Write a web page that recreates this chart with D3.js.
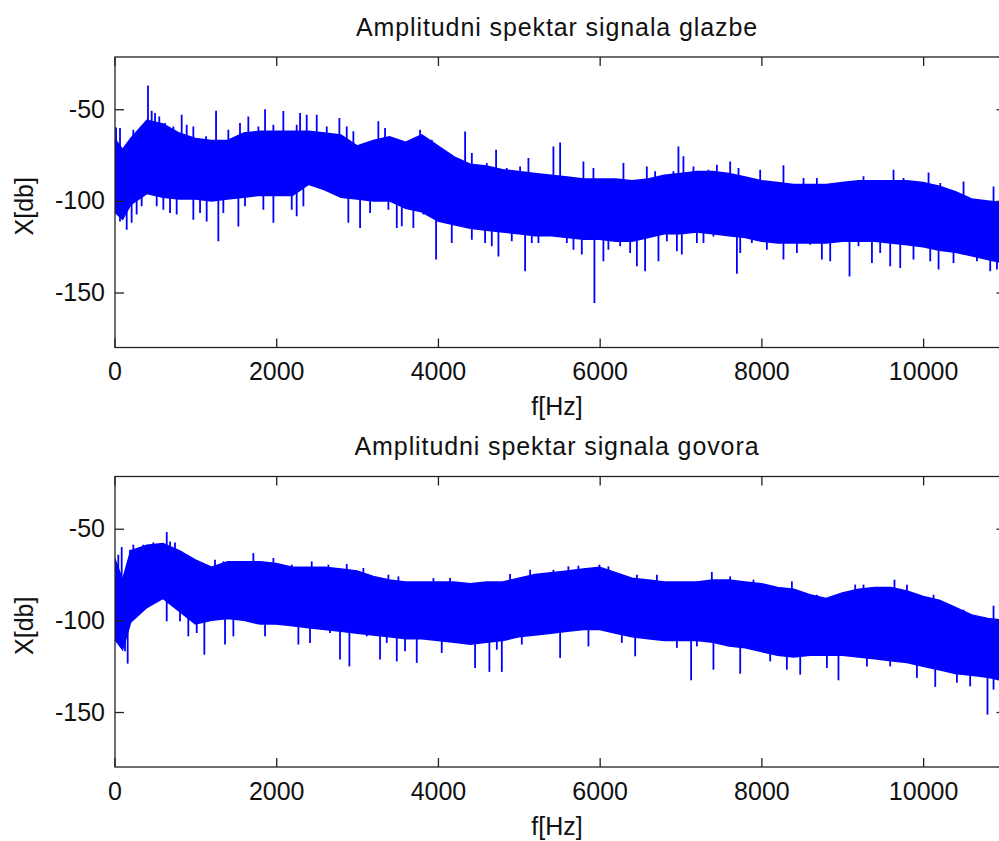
<!DOCTYPE html>
<html>
<head>
<meta charset="utf-8">
<script src="https://cdn.jsdelivr.net/npm/d3@7"></script>
<style>
  body { margin: 0; background: #fff; }
  text { font-family: "Liberation Sans", Arial, sans-serif; fill: #111; }
</style>
</head>
<body>
<div id="chart"></div>
<script>
// frequency grid (Hz) for the envelopes
const freqs = [0, 100, 200, 400, 600, 800, 1000, 1200, 1400, 1600, 1800, 2000, 2200, 2400, 2600, 2800, 3000,
  3200, 3400, 3600, 3800, 4000, 4200, 4400, 4600, 4800, 5000, 5200, 5400, 5600, 5800, 6000,
  6200, 6400, 6600, 6800, 7000, 7200, 7400, 7600, 7800, 8000, 8200, 8400, 8600, 8800, 9000,
  9200, 9400, 9600, 9800, 10000, 10200, 10400, 10600, 10800, 11000];

// music spectrum: upper / lower edge of the dense band (dB)
const glazbeTop = [-66, -72, -66, -56, -58, -63, -66, -67, -67, -63, -62, -62, -62, -62, -63, -64, -70,
  -67, -65, -68, -64, -70, -76, -80, -81, -83, -84, -85, -86, -87, -88, -88,
  -88, -89, -88, -86, -85, -84, -84, -85, -87, -89, -90, -91, -91, -91, -90,
  -89, -89, -89, -89, -90, -92, -95, -99, -100, -101];
const glazbeBottom = [-106, -110, -102, -96, -98, -99, -99, -100, -99, -98, -97, -97, -97, -91, -94, -98, -99,
  -100, -100, -104, -106, -111, -113, -115, -116, -117, -118, -119, -119, -120, -121, -121,
  -122, -122, -120, -118, -118, -117, -118, -119, -120, -122, -123, -123, -123, -123, -122,
  -122, -122, -123, -124, -125, -127, -128, -130, -132, -134];
// single spikes sticking out of the band [Hz, dB]
const glazbeSpikesUp = [[20, -60], [68, -60.3], [233, -61.2], [336, -59.4], [414, -37], [460, -50.8], [501, -52],
  [554, -54], [625, -57.5], [728, -59.4], [831, -53], [893, -58.5], [975, -59.4], [1132, -64.8],
  [1256, -50.8], [1408, -61.2], [1552, -57.5], [1655, -54], [1779, -59.4], [1862, -50], [1965, -58.5],
  [2088, -51], [2253, -58.5], [2295, -52], [2377, -53], [2501, -53], [2625, -59.4], [2781, -54.8],
  [2872, -59.4], [2954, -62], [3263, -56.6], [3346, -60.3], [3572, -70.3], [3696, -65.7], [3779, -61.2],
  [3841, -65.7], [3924, -66.6], [4129, -73.9], [4336, -62.1], [4419, -73.9], [4604, -79.3], [4719, -72.1],
  [4851, -82], [5016, -81.2], [5119, -76.6], [5428, -70.3], [5511, -68.1], [5799, -78.5], [5923, -82],
  [6294, -79.3], [6583, -81.2], [6686, -83.9], [6912, -83.9], [6974, -70.3], [7036, -75.7], [7160, -81.2],
  [7345, -83], [7449, -80.3], [7614, -78.5], [7717, -82], [7985, -83], [8273, -80.6], [8521, -87.5],
  [8686, -87.5], [8974, -91.2], [9263, -86.6], [9429, -89.4], [9634, -83], [9758, -87.5], [10067, -84.5],
  [10212, -90.2], [10500, -89.4], [10871, -92.1]];
const glazbeSpikesDown = [[68, -111.2], [151, -115.7], [212, -112], [274, -107.5], [336, -103], [522, -103],
  [604, -104.8], [687, -106.6], [769, -107.5], [975, -110.3], [1058, -106.6], [1140, -111.2], [1284, -122],
  [1346, -106.6], [1532, -114], [1614, -103], [1841, -104.8], [1965, -112], [2192, -104.8], [2253, -108.4],
  [2336, -103], [2892, -112], [3037, -114.8], [3161, -106.6], [3387, -104.8], [3491, -114.8], [3553, -113.9],
  [3696, -114.8], [3820, -107.5], [3977, -132], [4171, -123], [4295, -113.9], [4419, -121.2], [4583, -123],
  [4666, -124.8], [4748, -130.3], [4913, -122], [5078, -138.4], [5161, -123], [5243, -123], [5470, -119.4],
  [5594, -123], [5676, -126.6], [5779, -129.3], [5935, -155.7], [6046, -133], [6108, -126.6], [6253, -124.8],
  [6377, -128.4], [6460, -135.7], [6562, -138.4], [6727, -133], [6831, -122], [6955, -127.5], [7016, -129.3],
  [7202, -123], [7284, -123], [7407, -119.4], [7697, -139.7], [7738, -128.4], [7882, -123], [8068, -126.6],
  [8273, -132], [8439, -128.4], [8603, -123.9], [8748, -132], [8851, -133], [9090, -141.2], [9201, -124.8],
  [9367, -133.9], [9469, -128.4], [9593, -135.7], [9717, -136.6], [9881, -132], [10088, -133], [10191, -137.5],
  [10376, -133.9], [10500, -128.4], [10665, -133], [10830, -138.4], [10913, -137.5]];

// speech spectrum
const govoraTop = [-66, -78, -62, -59, -58, -62, -67, -71, -68, -68, -68, -69, -71, -71, -71, -72, -73,
  -76, -78, -79, -79, -79, -79, -80, -79, -79, -77, -75, -74, -73, -72, -71,
  -74, -77, -78, -79, -79, -79, -78, -78, -79, -80, -82, -83, -86, -88, -85,
  -83, -82, -82, -84, -87, -89, -93, -97, -99, -100];
const govoraBottom = [-110, -116, -101, -93, -88, -95, -102, -100, -99, -100, -102, -102, -103, -104, -105, -106, -107,
  -108, -109, -110, -110, -111, -112, -113, -112, -111, -109, -108, -107, -106, -105, -105,
  -107, -109, -110, -111, -111, -111, -112, -114, -115, -117, -119, -120, -119, -119, -119,
  -120, -121, -122, -123, -125, -127, -129, -130, -131, -133];
const govoraSpikesUp = [[47, -64.2], [89, -60], [192, -61.5], [233, -58.7], [356, -58.7], [480, -57.5], [542, -59.6],
  [646, -51.8], [687, -56.9], [748, -57.5], [831, -62.4], [934, -66], [1078, -73.3], [1243, -66.9],
  [1346, -67.8], [1552, -68.7], [1717, -63.3], [1965, -66], [2068, -70.5], [2192, -69.6], [2439, -67.8],
  [2645, -69.6], [2872, -69.2], [3078, -71.4], [3387, -75.1], [3511, -76], [3944, -76.9], [4150, -76.9],
  [4892, -74.7], [5140, -72.4], [5428, -72.4], [5613, -70.5], [5737, -70.2], [5997, -69.6], [6108, -70.5],
  [6460, -75.1], [6707, -75.1], [7387, -73.6], [7614, -76], [7902, -77.8], [8377, -78.7], [8686, -86],
  [9160, -80.5], [9263, -80.5], [9646, -77.8], [9800, -80.5], [10129, -86], [10500, -94.2], [10871, -92]];
const govoraSpikesDown = [[47, -108.7], [130, -116.9], [163, -123.6], [646, -100.5], [810, -100.5], [913, -108.7],
  [1017, -106.9], [1111, -118.7], [1367, -113.2], [1470, -108.7], [1862, -108.7], [2274, -113.2], [2418, -112.3],
  [2666, -106.9], [2789, -121.4], [2905, -125.1], [3120, -108.7], [3284, -121.4], [3367, -112.3], [3491, -122.4],
  [3593, -116.9], [3738, -123.2], [4047, -117.8], [4459, -126], [4636, -128.1], [4728, -116], [4790, -128.1],
  [5037, -113.2], [5511, -120.5], [5861, -114.2], [6274, -112.3], [6439, -119.6], [6955, -115], [7131, -132.7],
  [7202, -114.2], [7407, -126.9], [7738, -129.1], [8109, -122.4], [8315, -126.9], [8480, -129.6], [8810, -126],
  [8953, -132.7], [9305, -125.1], [9593, -125.1], [9923, -131.4], [10150, -136.3], [10418, -134.1],
  [10582, -136], [10796, -151.4], [10871, -137.8]];

const xTicks = [0, 2000, 4000, 6000, 8000, 10000];
const yTicks = [-50, -100, -150];

const width = 999, height = 841;
const svg = d3.select("#chart").append("svg")
    .attr("width", width)
    .attr("height", height);

function drawPanel(top, title, upper, lower, spikesUp, spikesDown, id) {
    const box = {left: 115, right: 1005.5, top: top, bottom: top + 290.5};

    const x = d3.scaleLinear().domain([0, 11025]).range([114.5, 1006]);
    const y = d3.scaleLinear().domain([-180, -21.5]).range([box.bottom, box.top]);

    const g = svg.append("g");

    g.append("clipPath").attr("id", "clip-" + id)
        .append("rect")
        .attr("x", box.left).attr("y", box.top)
        .attr("width", box.right - box.left).attr("height", box.bottom - box.top);

    const plot = g.append("g").attr("clip-path", `url(#clip-${id})`);

    const band = freqs.map((f, i) => ({f: f, hi: upper[i], lo: lower[i]}));

    plot.append("path")
        .datum(band)
        .attr("fill", "#0000ff")
        .attr("stroke", "#0000ff")
        .attr("stroke-width", 1.5)
        .attr("d", d3.area()
            .x(d => x(d.f))
            .y0(d => y(d.lo))
            .y1(d => y(d.hi)));

    // middle of the band at a given frequency, used as spike anchor
    const bis = d3.bisector(d => d.f).center;
    const mid = f => { const d = band[bis(band, f)]; return (d.hi + d.lo) / 2; };

    plot.selectAll(".spike")
        .data(spikesUp.concat(spikesDown))
        .enter().append("line")
        .attr("class", "spike")
        .attr("x1", d => x(d[0])).attr("x2", d => x(d[0]))
        .attr("y1", d => y(d[1]))
        .attr("y2", d => y(mid(d[0])))
        .attr("stroke", "#0000ff")
        .attr("stroke-width", 1.8);

    // axes, MATLAB style: box with inward ticks on all sides
    const xb = g.append("g").attr("transform", `translate(0,${box.bottom})`)
        .call(d3.axisBottom(x).tickValues(xTicks).tickSize(-9).tickSizeOuter(0).tickFormat(d => String(d)));
    xb.selectAll("text").attr("dy", null).attr("y", 32.5);

    g.append("g").attr("transform", `translate(0,${box.top})`)
        .call(d3.axisTop(x).tickValues(xTicks).tickSize(-9).tickSizeOuter(0).tickFormat(""));

    g.append("g").attr("transform", `translate(${box.left},0)`)
        .call(d3.axisLeft(y).tickValues(yTicks).tickSize(-9).tickSizeOuter(0).tickPadding(10)
            .tickFormat(d => String(d)));

    g.append("g").attr("transform", `translate(${box.right},0)`)
        .call(d3.axisRight(y).tickValues(yTicks).tickSize(-9).tickSizeOuter(0).tickFormat(""));

    g.selectAll(".domain").remove();
    g.selectAll(".tick line").attr("stroke", "#222").attr("stroke-width", 1.3);
    g.selectAll(".tick text").style("font-size", "25px").attr("fill", "#111");

    g.append("rect")
        .attr("x", box.left).attr("y", box.top)
        .attr("width", box.right - box.left).attr("height", box.bottom - box.top)
        .attr("fill", "none").attr("stroke", "#222").attr("stroke-width", 1.3);

    g.append("text")
        .attr("x", 557).attr("y", box.top - 21.5)
        .attr("text-anchor", "middle")
        .style("font-size", "25px")
        .style("letter-spacing", "0.9px")
        .text(title);

    g.append("text")
        .attr("x", 557).attr("y", box.bottom + 67.5)
        .attr("text-anchor", "middle")
        .style("font-size", "25px")
        .text("f[Hz]");

    g.append("text")
        .attr("transform", `translate(33,${(box.top + box.bottom) / 2 + 4}) rotate(-90)`)
        .attr("text-anchor", "middle")
        .style("font-size", "25px")
        .text("X[db]");
}

drawPanel(57, "Amplitudni spektar signala glazbe", glazbeTop, glazbeBottom, glazbeSpikesUp, glazbeSpikesDown, "glazbe");
drawPanel(476.5, "Amplitudni spektar signala govora", govoraTop, govoraBottom, govoraSpikesUp, govoraSpikesDown, "govora");
</script>
</body>
</html>
